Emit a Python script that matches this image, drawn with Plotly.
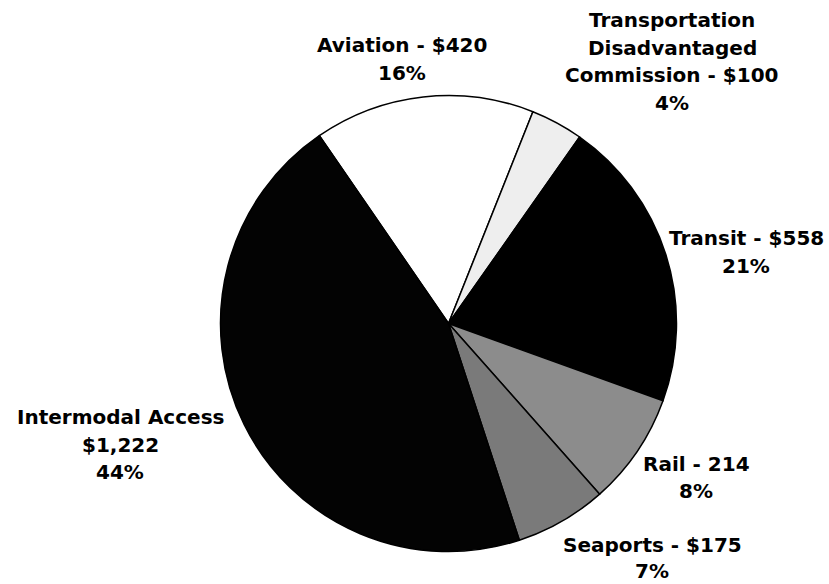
import plotly.graph_objects as go

# Data
categories = ["Aviation", "Transportation Disadvantaged Commission", "Transit",
              "Rail", "Seaports", "Intermodal Access"]
values = [420, 100, 558, 214, 175, 1222]
colors = ["#ffffff", "#eeeeee", "#000000", "#8c8c8c", "#7a7a7a", "#030303"]

label_lines = [
    ["Aviation - $420", "16%"],
    ["Transportation", "Disadvantaged", "Commission - $100", "4%"],
    ["Transit - $558", "21%"],
    ["Rail - 214", "8%"],
    ["Seaports - $175", "7%"],
    ["Intermodal Access", "$1,222", "44%"],
]

W, H = 829, 584
cx, cy, r = 448.5, 323.5, 228

# label anchor (center x, first-line y) in pixels, line spacing per label
label_pos = [(402, 45), (672, 20), (746, 238), (696, 464), (652, 545), (120, 417)]
line_hs = [27.5, 27.5, 27.5, 27.5, 25.5, 27.5]

fig = go.Figure()
fig.add_trace(go.Pie(
    labels=categories, values=values, sort=False, direction="clockwise",
    rotation=-34.5, textinfo="none", hoverinfo="label+value+percent",
    marker=dict(colors=colors, line=dict(color="#000000", width=1.5)),
    showlegend=False,
    domain=dict(x=[(cx - r) / W, (cx + r) / W], y=[(H - cy - r) / H, (H - cy + r) / H]),
))

annotations = []
for lines, (x, y0), lh in zip(label_lines, label_pos, line_hs):
    for i, t in enumerate(lines):
        y = y0 + i * lh
        annotations.append(dict(
            x=x / W, y=1 - y / H, xref="paper", yref="paper",
            text="<b>" + t + "</b>", showarrow=False,
            xanchor="center", yanchor="middle",
            font=dict(family="DejaVu Sans", size=20, color="#000000"),
        ))

fig.update_layout(
    width=W, height=H, margin=dict(l=0, r=0, t=0, b=0),
    paper_bgcolor="#ffffff", plot_bgcolor="#ffffff",
    annotations=annotations,
)

fig.write_html(
    "out.html",
    config={"displayModeBar": False},
    post_script="document.body.style.margin='0';document.body.style.overflow='hidden';",
)
